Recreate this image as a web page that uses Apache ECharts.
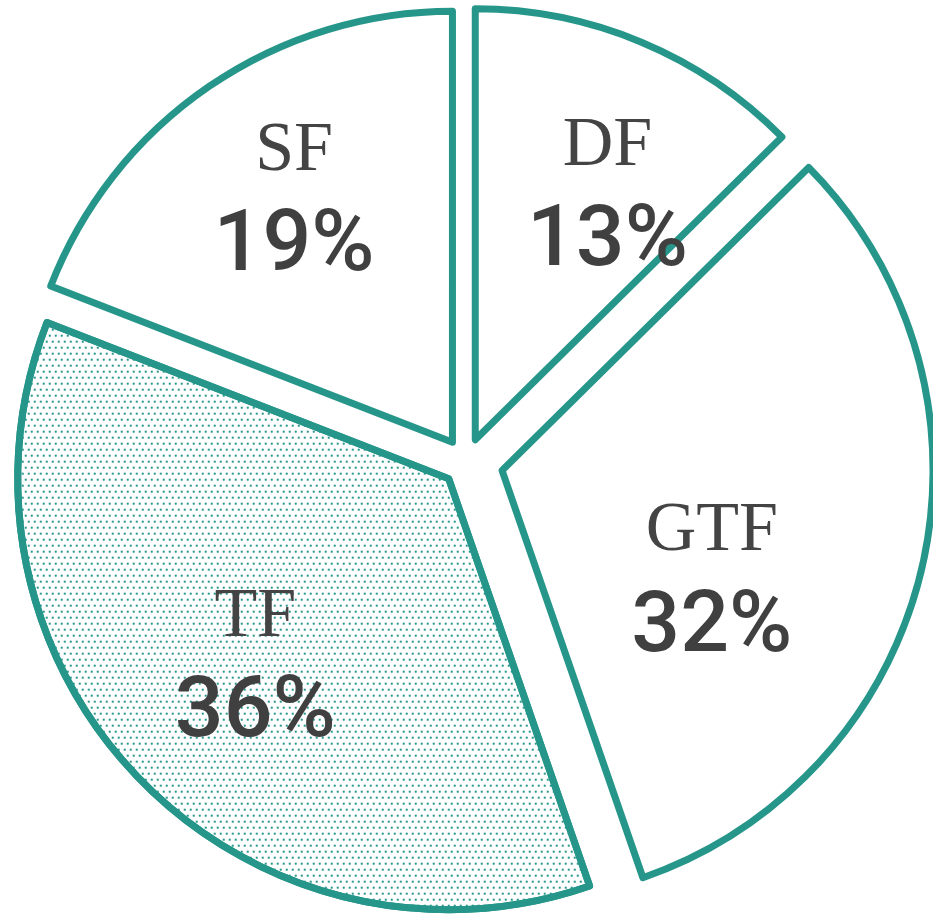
<!DOCTYPE html>
<html>
<head>
<meta charset="utf-8">
<script src="https://cdn.jsdelivr.net/npm/echarts@6/dist/echarts.min.js"></script>
<style>
  html, body { margin: 0; padding: 0; background: #fff; }
  #main { width: 933px; height: 917px; }
</style>
</head>
<body>
<div id="main"></div>
<script>
// data
const names = ['DF', 'GTF', 'TF', 'SF'];
const values = [12.6, 32.1, 36.2, 19.1];
const dotted = [false, false, true, false];

// look
const teal = '#26968a';
const explode = [24, 37, 24, 24];           // each slice pulled out on its own
const labelShift = [[48, -40], [-3, 64], [-36, 39], [-35, -58]];

const chart = echarts.init(document.getElementById('main'));

function sliceStyle(i) {
  const s = {color: '#fff', borderColor: teal, borderWidth: 7, borderJoin: 'round'};
  if (dotted[i]) {
    s.decal = {
      symbol: 'rect',
      symbolSize: 1,
      color: teal,
      backgroundColor: null,
      dashArrayX: [[2, 4], [0, 3, 2, 1]],
      dashArrayY: [2, 4],
      rotation: 0
    };
  }
  return s;
}

// one pie per slice so every slice can get its own explode distance
const series = names.map(function (focus, k) {
  return {
    type: 'pie',
    center: [466, 462],
    radius: 431,
    startAngle: 90,
    clockwise: true,
    selectedMode: 'single',
    selectedOffset: explode[k],
    silent: true,
    animation: false,
    avoidLabelOverlap: false,
    emphasis: {disabled: true},
    labelLine: {show: false},
    label: {
      show: true,
      position: 'inside',
      formatter: function (p) {
        return '{n|' + p.name + '}\n{p|' + Math.round(p.percent) + '%}';
      },
      rich: {
        n: {fontFamily: 'Liberation Serif', fontSize: 70, color: '#444', lineHeight: 90, align: 'center'},
        p: {fontFamily: 'Roboto', fontWeight: 500, fontSize: 86, color: '#404040', lineHeight: 104, align: 'center'}
      }
    },
    labelLayout: function (p) {
      return {dx: labelShift[p.dataIndex][0], dy: labelShift[p.dataIndex][1]};
    },
    data: names.map(function (n, i) {
      if (i !== k) {
        return {name: n, value: values[i], itemStyle: {color: 'transparent', borderWidth: 0}, label: {show: false}};
      }
      return {name: n, value: values[i], selected: true, itemStyle: sliceStyle(i), select: {itemStyle: sliceStyle(i)}};
    })
  };
});

chart.setOption({
  backgroundColor: '#fff',
  series: series
});
</script>
</body>
</html>
